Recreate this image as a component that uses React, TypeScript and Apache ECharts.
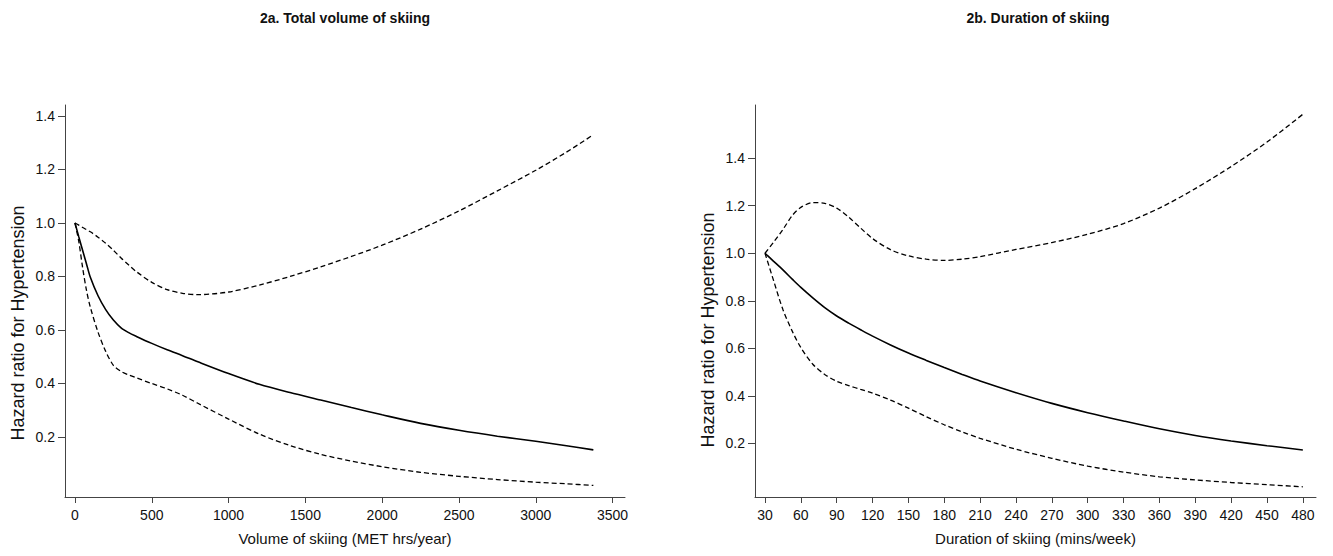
import { useEffect, useRef } from 'react';
import * as echarts from 'echarts';

// Panel 2a: total volume of skiing (MET hrs/year)
const volumeX = [0, 25, 50, 75, 100, 150, 200, 250, 300, 350, 400, 500, 600, 700, 800, 1000, 1200, 1400, 1600, 1800, 2000, 2250, 2500, 2750, 3000, 3200, 3375];
const volumeHR = [1.0, 0.948, 0.897, 0.847, 0.797, 0.728, 0.676, 0.637, 0.608, 0.59, 0.576, 0.55, 0.526, 0.504, 0.481, 0.437, 0.397, 0.366, 0.338, 0.31, 0.283, 0.251, 0.225, 0.203, 0.184, 0.167, 0.152];
const volumeUpper = [1.0, 0.992, 0.983, 0.975, 0.967, 0.947, 0.924, 0.898, 0.869, 0.843, 0.818, 0.778, 0.751, 0.737, 0.732, 0.742, 0.768, 0.8, 0.836, 0.875, 0.917, 0.977, 1.045, 1.12, 1.197, 1.265, 1.33];
const volumeLower = [1.0, 0.93, 0.832, 0.748, 0.685, 0.592, 0.52, 0.468, 0.445, 0.432, 0.421, 0.4, 0.38, 0.356, 0.326, 0.267, 0.211, 0.168, 0.135, 0.11, 0.089, 0.068, 0.053, 0.041, 0.031, 0.025, 0.019];

// Panel 2b: duration of skiing (mins/week)
const durationX = [30, 37, 45, 53, 60, 70, 80, 90, 100, 110, 120, 135, 150, 165, 180, 195, 210, 240, 270, 300, 330, 360, 390, 420, 450, 480];
const durationHR = [1.0, 0.967, 0.93, 0.89, 0.856, 0.812, 0.771, 0.736, 0.706, 0.678, 0.651, 0.614, 0.58, 0.549, 0.519, 0.49, 0.462, 0.413, 0.368, 0.329, 0.294, 0.261, 0.233, 0.21, 0.19, 0.172];
const durationUpper = [1.0, 1.045, 1.1, 1.16, 1.193, 1.213, 1.21, 1.19, 1.152, 1.106, 1.062, 1.015, 0.989, 0.975, 0.97, 0.975, 0.986, 1.016, 1.045, 1.08, 1.125, 1.19, 1.272, 1.365, 1.468, 1.585];
const durationLower = [1.0, 0.888, 0.763, 0.67, 0.603, 0.533, 0.49, 0.461, 0.443, 0.427, 0.411, 0.382, 0.348, 0.312, 0.278, 0.248, 0.221, 0.175, 0.137, 0.104, 0.079, 0.059, 0.046, 0.035, 0.026, 0.017];

const volumeTicks = [0, 500, 1000, 1500, 2000, 2500, 3000, 3500];
const durationTicks = [30, 60, 90, 120, 150, 180, 210, 240, 270, 300, 330, 360, 390, 420, 450, 480];
const hrTicks = [0.2, 0.4, 0.6, 0.8, 1.0, 1.2, 1.4];

const titles = ['2a. Total volume of skiing', '2b. Duration of skiing'];
const xNames = ['Volume of skiing (MET hrs/year)', 'Duration of skiing (mins/week)'];
const yName = 'Hazard ratio for Hypertension';

const FONT = '"Liberation Sans", Arial, Helvetica, sans-serif';
const AXIS_COLOR = '#444';
const TEXT_COLOR = '#111';

function pairs(xs: number[], ys: number[]) {
  return xs.map((x, i) => [x, ys[i]]);
}

function xAxisCfg(gridIndex: number, min: number, max: number, ticks: number[], name: string) {
  return {
    type: 'value',
    gridIndex,
    min,
    max,
    name,
    nameLocation: 'middle',
    nameGap: 34,
    nameTextStyle: { fontSize: 15, color: TEXT_COLOR, fontFamily: FONT },
    axisLine: { show: true, onZero: false, lineStyle: { color: AXIS_COLOR, width: 1 } },
    axisTick: { show: true, length: 6, customValues: ticks, lineStyle: { color: AXIS_COLOR, width: 1 } },
    axisLabel: {
      customValues: ticks,
      margin: 11,
      fontSize: 14,
      color: TEXT_COLOR,
      fontFamily: FONT,
      formatter: (v: number) => String(v),
    },
    splitLine: { show: false },
  };
}

function yAxisCfg(gridIndex: number, min: number, max: number) {
  return {
    type: 'value',
    gridIndex,
    min,
    max,
    axisLine: { show: true, onZero: false, lineStyle: { color: AXIS_COLOR, width: 1 } },
    axisTick: { show: true, length: 7, customValues: hrTicks, lineStyle: { color: AXIS_COLOR, width: 1 } },
    axisLabel: {
      customValues: hrTicks,
      margin: 10,
      fontSize: 14,
      color: TEXT_COLOR,
      fontFamily: FONT,
      formatter: (v: number) => v.toFixed(1),
    },
    splitLine: { show: false },
  };
}

function lineSeries(idx: number, data: number[][], dashed: boolean) {
  return {
    type: 'line',
    xAxisIndex: idx,
    yAxisIndex: idx,
    data,
    showSymbol: false,
    smooth: 0.3,
    lineStyle: dashed
      ? { color: '#000', width: 1.3, type: [5, 3] }
      : { color: '#000', width: 1.6, type: 'solid' },
    silent: true,
  };
}

function textEl(text: string, x: number, y: number, font: string, rotation = 0) {
  return {
    type: 'text',
    x,
    y,
    rotation,
    style: { text, textAlign: 'center', textVerticalAlign: 'middle', font, fill: TEXT_COLOR },
  };
}

export default function App() {
  const ref = useRef<HTMLDivElement>(null);
  useEffect(() => {
    if (!ref.current) return;
    const chart = echarts.init(ref.current, undefined, { renderer: 'svg' });
    chart.setOption({
      animation: false,
      backgroundColor: '#fff',
      grid: [
        { left: 65, top: 105, width: 560, height: 392 },
        { left: 755, top: 105, width: 561, height: 392 },
      ],
      xAxis: [
        xAxisCfg(0, -65, 3581, volumeTicks, xNames[0]),
        xAxisCfg(1, 21.64, 491, durationTicks, xNames[1]),
      ],
      yAxis: [yAxisCfg(0, -0.0243, 1.441), yAxisCfg(1, -0.026, 1.624)],
      graphic: [
        textEl(titles[0], 345, 18, `bold 14px ${FONT}`),
        textEl(titles[1], 1038, 18, `bold 14px ${FONT}`),
        textEl(yName, 18, 323, `18px ${FONT}`, Math.PI / 2),
        textEl(yName, 708, 330, `18px ${FONT}`, Math.PI / 2),
      ],
      series: [
        lineSeries(0, pairs(volumeX, volumeUpper), true),
        lineSeries(0, pairs(volumeX, volumeLower), true),
        lineSeries(0, pairs(volumeX, volumeHR), false),
        lineSeries(1, pairs(durationX, durationUpper), true),
        lineSeries(1, pairs(durationX, durationLower), true),
        lineSeries(1, pairs(durationX, durationHR), false),
      ],
    });
    return () => chart.dispose();
  }, []);
  return (
    <div
      ref={ref}
      style={{ position: 'fixed', left: 0, top: 0, width: 1333, height: 556, background: '#fff' }}
    />
  );
}
